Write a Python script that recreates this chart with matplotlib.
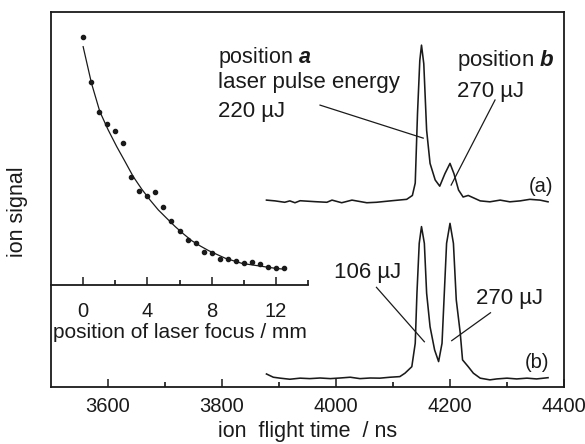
import numpy as np
import matplotlib.pyplot as plt
from matplotlib.ticker import FixedLocator

plt.rcParams['font.family'] = ['Liberation Sans', 'DejaVu Sans']
plt.rcParams['mathtext.fontset'] = 'custom'
plt.rcParams['mathtext.rm'] = 'Liberation Sans'
plt.rcParams['mathtext.it'] = 'Liberation Sans:italic:bold'

ink = '#1a1a1a'

# time-of-flight trace (a), ns / signal above its baseline
t_a = [3878, 3893, 3910, 3919, 3928, 3937, 3963, 3984, 3993, 4010, 4028, 4054,
       4071, 4098, 4124, 4134, 4139, 4143, 4147, 4150, 4154, 4159, 4165, 4174,
       4182, 4191, 4200, 4207, 4215, 4223, 4232, 4244, 4253, 4270, 4288, 4305,
       4323, 4340, 4358, 4372]
s_a = [0.000, -0.005, -0.014, -0.005, -0.017, -0.004, -0.010, -0.014, 0.000,
       -0.017, 0.000, -0.017, -0.014, -0.004, 0.005, 0.030, 0.110, 0.560, 0.900,
       1.000, 0.880, 0.450, 0.237, 0.130, 0.090, 0.170, 0.237, 0.170, 0.065,
       0.020, 0.030, 0.010, -0.005, -0.011, 0.000, -0.011, -0.005, 0.005, 0.000,
       -0.011]

# time-of-flight trace (b)
t_b = [3878, 3890, 3902, 3919, 3937, 3954, 3972, 3990, 4007, 4025, 4042, 4060,
       4077, 4095, 4112, 4121, 4133, 4139, 4142, 4146, 4150, 4155, 4159, 4165,
       4173, 4180, 4186, 4190, 4194, 4200, 4206, 4211, 4218, 4222, 4232, 4241,
       4253, 4270, 4282, 4300, 4317, 4335, 4352, 4372]
s_b = [0.032, 0.011, 0.005, -0.002, 0.005, 0.002, 0.006, 0.002, 0.006, 0.011,
       0.002, 0.006, 0.005, 0.011, 0.015, 0.037, 0.079, 0.230, 0.553, 0.875,
       0.983, 0.875, 0.553, 0.337, 0.187, 0.112, 0.230, 0.553, 0.875, 1.004,
       0.875, 0.510, 0.295, 0.123, 0.079, 0.037, 0.005, -0.006, 0.000, 0.005,
       0.000, 0.005, 0.000, 0.008]

offset_a = 1.206
offset_b = 0.052

# inset: ion signal vs position of laser focus (mm)
focus_pos = [0, 0.5, 1, 1.5, 2, 2.5, 3, 3.5, 4, 4.5, 5, 5.5, 6, 6.5, 7, 7.5,
             8, 8.5, 9, 9.5, 10, 10.5, 11, 11.5, 12, 12.5]
focus_sig = [9.09, 7.45, 6.35, 5.90, 5.65, 5.19, 3.97, 3.45, 3.27, 3.41, 2.87,
             2.36, 1.98, 1.65, 1.55, 1.22, 1.16, 0.94, 0.94, 0.88, 0.82, 0.85,
             0.76, 0.66, 0.61, 0.61]
fit_pos = [0, 0.52, 1.04, 1.56, 2.09, 2.61, 3.12, 3.65, 4.17, 4.68, 5.21, 5.73,
           6.25, 6.77, 7.29, 7.81, 8.85, 9.9, 10.94, 11.98, 12.5]
fit_sig = [8.73, 7.39, 6.35, 5.68, 5.07, 4.52, 3.97, 3.51, 3.11, 2.75, 2.44,
           2.14, 1.87, 1.62, 1.43, 1.26, 0.98, 0.79, 0.70, 0.61, 0.58]

fig = plt.figure(figsize=(5.85, 4.44), dpi=100)
ax = fig.add_axes([0.0872, 0.1284, 0.8769, 0.8446])

ax.plot(t_a, np.array(s_a) + offset_a, color=ink, lw=1.15)
ax.plot(t_b, np.array(s_b) + offset_b, color=ink, lw=1.15)

ax.set_xlim(3500, 4400)
ax.set_ylim(0, 2.42)
ax.set_xticks([3600, 3800, 4000, 4200, 4400])
ax.xaxis.set_minor_locator(FixedLocator([3700, 3900, 4100, 4300]))
ax.set_yticks([])
ax.tick_params(axis='x', which='major', direction='in', length=6, width=1.1,
               labelsize=14.5, pad=7, colors=ink)
ax.tick_params(axis='x', which='minor', direction='in', length=3.5, width=1.1)
for sp in ax.spines.values():
    sp.set_linewidth(1.3)
    sp.set_color(ink)
ax.set_xlabel('ion  flight time  / ns', fontsize=15.5, color=ink, labelpad=4)
ax.set_ylabel('ion signal', fontsize=15.5, color=ink)
ax.yaxis.set_label_coords(-0.045, 0.467)

# annotations for trace (a)
ax.text(3793, 2.129, r'position $\mathit{a}$', fontsize=15.5, color=ink,
        va='center', ha='left')
ax.text(3793, 1.968, 'laser pulse energy', fontsize=16, color=ink,
        va='center', ha='left')
ax.text(3793, 1.781, '220 µJ', fontsize=16, color=ink, va='center', ha='left')
ax.text(4212, 2.11, r'position $\mathit{b}$', fontsize=16, color=ink,
        va='center', ha='left')
ax.text(4212, 1.910, '270 µJ', fontsize=16, color=ink, va='center', ha='left')
ax.plot([3972, 4153], [1.819, 1.606], color=ink, lw=0.9)
ax.plot([4279, 4202], [1.852, 1.303], color=ink, lw=0.9)
ax.text(4338, 1.297, '(a)', fontsize=14.5, color=ink, va='center', ha='left')

# annotations for trace (b)
ax.text(4056, 0.742, '106 µJ', fontsize=16, color=ink, va='center', ha='center')
ax.text(4305, 0.574, '270 µJ', fontsize=16, color=ink, va='center', ha='center')
ax.plot([4071, 4155], [0.643, 0.292], color=ink, lw=0.9)
ax.plot([4271, 4203], [0.479, 0.299], color=ink, lw=0.9)
ax.text(4331, 0.161, '(b)', fontsize=14.5, color=ink, va='center', ha='left')

# inset
ins = fig.add_axes([0.0872, 0.3581, 0.4393, 0.6149])
ins.patch.set_alpha(0)
ins.plot(fit_pos, fit_sig, color=ink, lw=0.9)
ins.plot(focus_pos, focus_sig, 'o', color=ink, ms=3, mec=ink)
ins.set_xlim(-2, 14)
ins.set_ylim(0, 10)
ins.set_xticks([0, 4, 8, 12])
ins.xaxis.set_minor_locator(FixedLocator([2, 6, 10, 14]))
ins.set_yticks([])
ins.tick_params(axis='x', which='major', direction='in', length=6, width=1.1,
                labelsize=14.5, pad=12, colors=ink)
ins.tick_params(axis='x', which='minor', direction='in', length=3.5, width=1.1)
for side in ['top', 'right', 'left']:
    ins.spines[side].set_visible(False)
ins.spines['bottom'].set_linewidth(1.3)
ins.spines['bottom'].set_color(ink)
ins.set_xlabel('position of laser focus / mm', fontsize=15, color=ink,
               labelpad=1.5)

fig.savefig('out.png', dpi=100)
